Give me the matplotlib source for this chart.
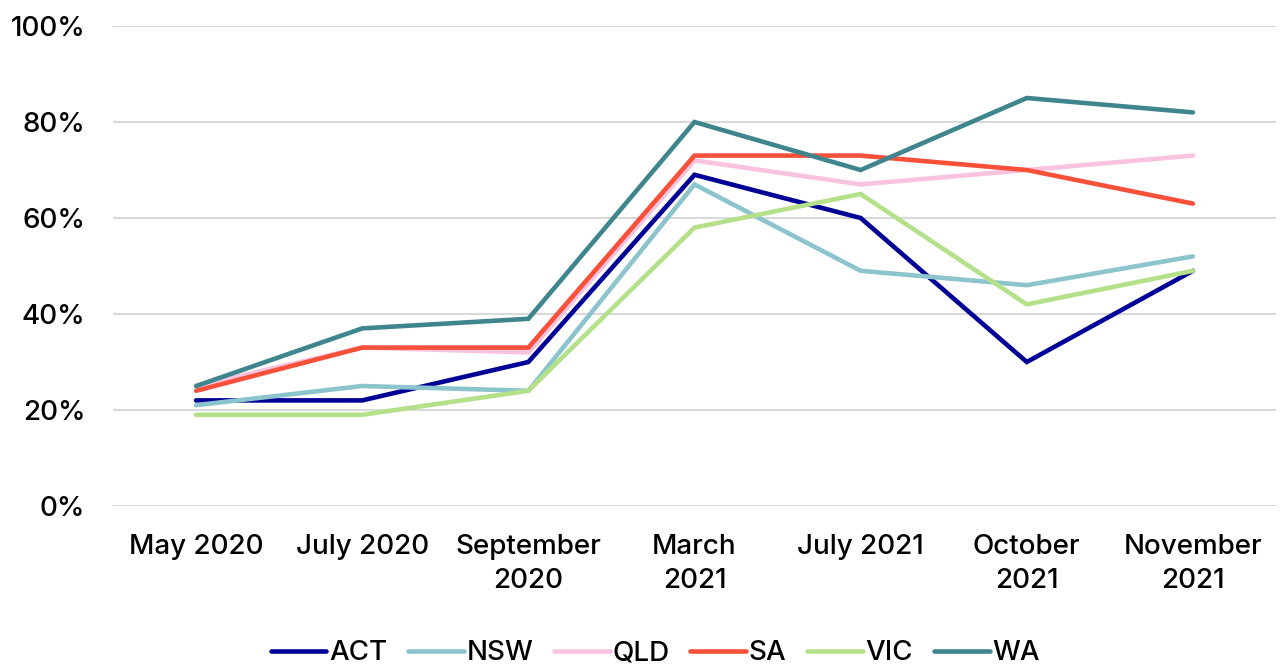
import numpy as np
import matplotlib.pyplot as plt

plt.rcParams['font.family'] = ['Inter', 'DejaVu Sans']
plt.rcParams['font.weight'] = 'medium'

periods = ["May 2020", "July 2020", "September\n2020", "March\n2021",
           "July 2021", "October\n2021", "November\n2021"]

act = [22, 22, 30, 69, 60, 30, 49]
nsw = [21, 25, 24, 67, 49, 46, 52]
qld = [25, 33, 32, 72, 67, 70, 73]
sa = [24, 33, 33, 73, 73, 70, 63]
vic = [19, 19, 24, 58, 65, 42, 49]
wa = [25, 37, 39, 80, 70, 85, 82]

series = [("ACT", act, "#000096"), ("NSW", nsw, "#8CC4CE"),
          ("QLD", qld, "#F9C3E0"), ("SA", sa, "#F9503A"),
          ("VIC", vic, "#B5E08A"), ("WA", wa, "#3F858D")]

fig = plt.figure(figsize=(12.85, 6.64), dpi=100)
ax = fig.add_axes([113/1285, 1 - 506/664, (1276-113)/1285, 480/664])

x = np.arange(len(periods))
for name, vals, col in series:
    ax.plot(x, np.array(vals) / 100, color=col, lw=3.3, label=name,
            solid_capstyle='round', solid_joinstyle='miter')

ax.set_xlim(-0.5, len(periods) - 0.5)
ax.set_ylim(0, 1)
ax.set_yticks(np.arange(0, 1.01, 0.2))
ax.set_yticklabels([f"{int(round(v*100))}%" for v in np.arange(0, 1.01, 0.2)])
ax.set_xticks(x)
ax.set_xticklabels(periods, linespacing=1.4)
ax.grid(axis='y', color='#d9d9d9', lw=1.5)
ax.set_axisbelow(True)
for s in ax.spines.values():
    s.set_visible(False)
ax.tick_params(length=0, labelsize=20, colors='black')
ax.tick_params(axis='x', pad=20)
ax.tick_params(axis='y', pad=20)

fig.legend(loc='center', bbox_to_anchor=(0.51, 0.016), ncol=6, frameon=False,
           fontsize=20, handlelength=2.0, handletextpad=0.1, columnspacing=0.75)

plt.savefig("out.png", dpi=100)
